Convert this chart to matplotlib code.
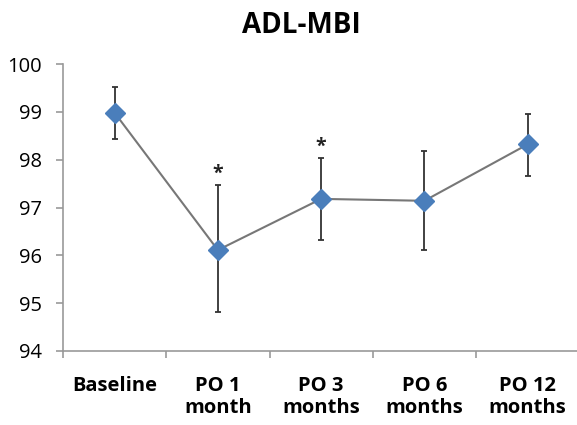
import matplotlib
matplotlib.use("Agg")
import matplotlib.pyplot as plt
import numpy as np

categories = ["Baseline", "PO 1\nmonth", "PO 3\nmonths", "PO 6\nmonths", "PO 12\nmonths"]
means = [98.98, 96.11, 97.18, 97.14, 98.32]
err_low = [98.44, 94.82, 96.32, 96.11, 97.66]
err_high = [99.51, 97.48, 98.03, 98.19, 98.95]
significant = [False, True, True, False, False]
yticks = [94, 95, 96, 97, 98, 99, 100]

plt.rcParams['font.family'] = ['Open Sans', 'DejaVu Sans']

fig = plt.figure(figsize=(5.77, 4.25), dpi=100)
ax = fig.add_axes([63/577, 74/425, 514/577, 287/425])

x = np.arange(len(categories))
m = np.array(means)
lo = m - np.array(err_low)
hi = np.array(err_high) - m

ax.errorbar(x, m, yerr=[lo, hi], fmt='none', ecolor='#333333', elinewidth=1.3,
            capsize=2, capthick=1.3, zorder=2)
ax.plot(x, m, color='#777777', lw=1.5, zorder=3)
ax.plot(x, m, linestyle='none', marker='D', markersize=10, color='#4a7ebb',
        markeredgecolor='#4a7ebb', zorder=4)

for xi, s, top in zip(x, significant, err_high):
    if s:
        ax.text(xi, top + 0.02, "*", ha='center', va='bottom', fontsize=14,
                color='#222222', fontweight='bold')

ax.set_xlim(-0.5, 4.478)
ax.set_ylim(94, 100)
ax.set_yticks(yticks)
ax.set_yticklabels([str(v) for v in yticks], fontsize=14.5)
ax.set_xticks(x)
ax.set_xticklabels(categories, fontsize=14.5, fontweight='bold', linespacing=1.15)
ax.set_xticks(np.arange(-0.5, 4.5, 1), minor=True)
ax.tick_params(axis='x', which='major', length=0, pad=18)
ax.tick_params(axis='x', which='minor', length=5, color='#999999', width=1.2)
ax.tick_params(axis='y', length=5, color='#999999', width=1.2, pad=10)

for side in ['top', 'right']:
    ax.spines[side].set_visible(False)
for side in ['left', 'bottom']:
    ax.spines[side].set_color('#999999')
    ax.spines[side].set_linewidth(1.2)

fig.text(0.523, 0.94, "ADL-MBI", ha='center', va='center', fontsize=20,
         fontweight='bold')

fig.savefig("out.png", dpi=100)
